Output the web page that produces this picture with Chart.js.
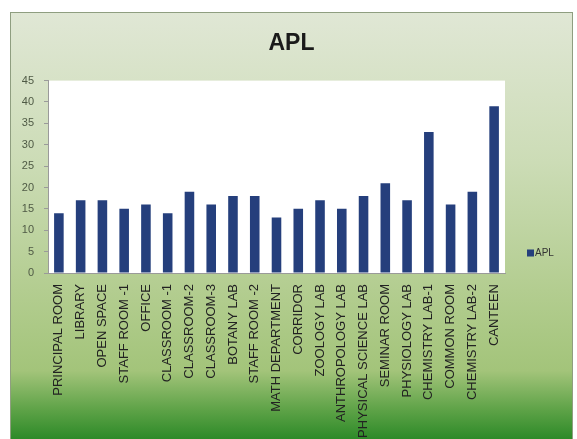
<!DOCTYPE html>
<html>
<head>
<meta charset="utf-8">
<script src="https://cdn.jsdelivr.net/npm/chart.js@4"></script>
<style>
  html, body { margin: 0; padding: 0; background: #fff; }
  .frame {
    position: absolute; left: 10px; top: 12px; width: 561px; height: 426px;
    border: 1px solid #8f9e80;
    background: linear-gradient(to bottom, #e0e7d5 0%, #ccdcb6 35%, #b3cd90 65%, #a3c47a 84%, #5fa348 93%, #2d8a28 100%);
  }
  canvas { display: block; }
</style>
</head>
<body>
<div class="frame"><canvas id="chart" width="561" height="426"></canvas></div>
<script>
// ===== APL by location =====
const LOCATIONS = ["PRINCIPAL ROOM", "LIBRARY", "OPEN SPACE", "STAFF ROOM -1", "OFFICE",
  "CLASSROOM -1", "CLASSROOM-2", "CLASSROOM-3", "BOTANY LAB", "STAFF ROOM -2",
  "MATH DEPARTMENT", "CORRIDOR", "ZOOLOGY LAB", "ANTHROPOLOGY LAB", "PHYSICAL SCIENCE LAB",
  "SEMINAR ROOM", "PHYSIOLOGY LAB", "CHEMISTRY LAB-1", "COMMON ROOM", "CHEMISTRY LAB-2", "CANTEEN"];
const APL = [14, 17, 17, 15, 16, 14, 19, 16, 18, 18, 13, 15, 17, 15, 18, 21, 17, 33, 16, 19, 39];
const Y_MAX = 45, Y_STEP = 5;

const BAR = "#253f7c", AXIS = "#9a9a9a", TICK = "#4f5a45", LABEL = "#222";
const FONT = "'Liberation Sans', sans-serif";

// white plot area behind the bars
const plotBg = {
  id: "plotBg",
  beforeDraw(c) {
    const { ctx, chartArea: a } = c;
    ctx.save();
    ctx.fillStyle = "#fff";
    ctx.fillRect(a.left, a.top, a.right - a.left, a.bottom - a.top);
    ctx.restore();
  }
};

// legend entry to the right of the plot
const sideLegend = {
  id: "sideLegend",
  afterDraw(c) {
    const { ctx, chartArea: a } = c;
    const ds = c.data.datasets[0];
    const x = a.right + 22, y = 240;
    ctx.save();
    ctx.fillStyle = ds.backgroundColor;
    ctx.fillRect(x, y - 3.5, 7, 7);
    ctx.fillStyle = "#333";
    ctx.font = "10px " + FONT;
    ctx.textBaseline = "middle";
    ctx.fillText(ds.label, x + 8, y + 0.5);
    ctx.restore();
  }
};

new Chart(document.getElementById("chart"), {
  type: "bar",
  data: {
    labels: LOCATIONS,
    datasets: [{ label: "APL", data: APL, backgroundColor: BAR,
      barPercentage: 0.44, categoryPercentage: 1 }]
  },
  options: {
    responsive: false, animation: false,
    layout: { padding: 0 },
    plugins: {
      legend: { display: false },
      tooltip: { enabled: false },
      title: {
        display: true, text: "APL", color: "#1a1a1a",
        font: { family: "'Liberation Sans Narrow', " + FONT, size: 23, weight: "bold" },
        padding: { top: 17, bottom: 23 }
      }
    },
    scales: {
      x: {
        grid: { display: false, drawTicks: false },
        border: { color: AXIS },
        ticks: { color: LABEL, maxRotation: 90, minRotation: 90, autoSkip: false, padding: 11,
          font: { family: FONT, size: 13 } },
        afterFit: s => { s.height = 166; }
      },
      y: {
        min: 0, max: Y_MAX,
        grid: { drawOnChartArea: false, tickLength: 4, color: AXIS },
        border: { color: AXIS },
        ticks: { stepSize: Y_STEP, color: TICK, padding: 10,
          font: { family: FONT, size: 11 } },
        afterFit: s => { s.width = 37; }
      },
      // empty right-hand scale that leaves room for the legend
      side: {
        type: "linear", position: "right",
        grid: { display: false }, border: { display: false }, ticks: { display: false },
        afterFit: s => { s.width = 67; }
      }
    }
  },
  plugins: [plotBg, sideLegend]
});
</script>
</body>
</html>
